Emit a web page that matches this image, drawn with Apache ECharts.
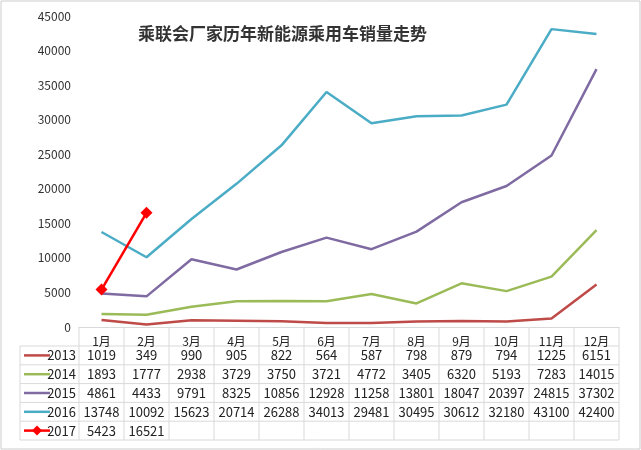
<!DOCTYPE html><html><head><meta charset="utf-8"><script src="https://cdn.jsdelivr.net/npm/echarts@6/dist/echarts.min.js"></script>
<style>html,body{margin:0;padding:0;background:#fff}#c{width:641px;height:450px}</style></head><body><div id="c"></div><script>
const months=['1月','2月','3月','4月','5月','6月','7月','8月','9月','10月','11月','12月'];
const years=['2013','2014','2015','2016','2017'];
const s2013=[1019,349,990,905,822,564,587,798,879,794,1225,6151];
const s2014=[1893,1777,2938,3729,3750,3721,4772,3405,6320,5193,7283,14015];
const s2015=[4861,4433,9791,8325,10856,12928,11258,13801,18047,20397,24815,37302];
const s2016=[13748,10092,15623,20714,26288,34013,29481,30495,30612,32180,43100,42400];
const s2017=[5423,16521];
const colors=['#be4b48','#9bbb59','#7f6aa2','#4bacc6','#ff0000'];
const all=[s2013,s2014,s2015,s2016,s2017];
const ch=echarts.init(document.getElementById('c'));
const font='"Noto Sans CJK SC", sans-serif';
ch.setOption({
animation:false,
title:{text:'乘联会厂家历年新能源乘用车销量走势',left:133,top:20,textStyle:{fontSize:17,fontWeight:'bold',color:'#333',fontFamily:font}},
grid:{left:79,right:22,top:16,bottom:123},
xAxis:{type:'category',data:months,axisTick:{show:false},axisLine:{lineStyle:{color:'#d9d9d9'}},axisLabel:{color:'#222',fontSize:12,fontFamily:font,margin:8}},
yAxis:{type:'value',min:0,max:45000,interval:5000,axisLabel:{color:'#333',fontSize:12,fontFamily:font,formatter:v=>String(v)},splitLine:{show:false},axisLine:{show:false}},
series:all.map((d,i)=>({name:years[i],type:'line',data:d,smooth:false,symbol:i===4?'diamond':'none',symbolSize:12,
 lineStyle:{width:2.5,color:colors[i]},itemStyle:{color:colors[i]}}))
});
const g=[];
const x0=20,xL=79,xR=619,yTop=327,rh=18.8;
const step=(xR-xL)/12;
for(let r=0;r<=5;r++){const y=yTop+19+r*rh;g.push({type:'line',shape:{x1:x0,y1:y,x2:xR,y2:y},style:{stroke:'#d9d9d9',lineWidth:1}});}
for(let c=0;c<=12;c++){const x=xL+c*step;g.push({type:'line',shape:{x1:x,y1:yTop,x2:x,y2:yTop+19+5*rh},style:{stroke:'#d9d9d9',lineWidth:1}});}
g.push({type:'line',shape:{x1:x0,y1:yTop+19,x2:x0,y2:yTop+19+5*rh},style:{stroke:'#d9d9d9',lineWidth:1}});
years.forEach((yr,r)=>{
 const yc=yTop+19+r*rh+rh/2;
 g.push({type:'line',shape:{x1:24,y1:yc,x2:50,y2:yc},style:{stroke:colors[r],lineWidth:2.5}});
 if(r===4)g.push({type:'polygon',shape:{points:[[37,yc-5],[42,yc],[37,yc+5],[32,yc]]},style:{fill:colors[r]}});
 g.push({type:'text',style:{text:yr,x:76,y:yc,align:'right',verticalAlign:'middle',fontSize:13,fill:'#222',fontFamily:font}});
 all[r].forEach((v,c)=>{
  const x=xL+(c+0.5)*step;
  g.push({type:'text',style:{text:String(v),x:x,y:yc,align:'center',verticalAlign:'middle',fontSize:13,fill:'#222',fontFamily:font}});
 });
});
g.push({type:'rect',shape:{x:1,y:1,width:639,height:448},style:{fill:'none',stroke:'#cccccc',lineWidth:1}});
ch.setOption({graphic:g});
</script></body></html>
